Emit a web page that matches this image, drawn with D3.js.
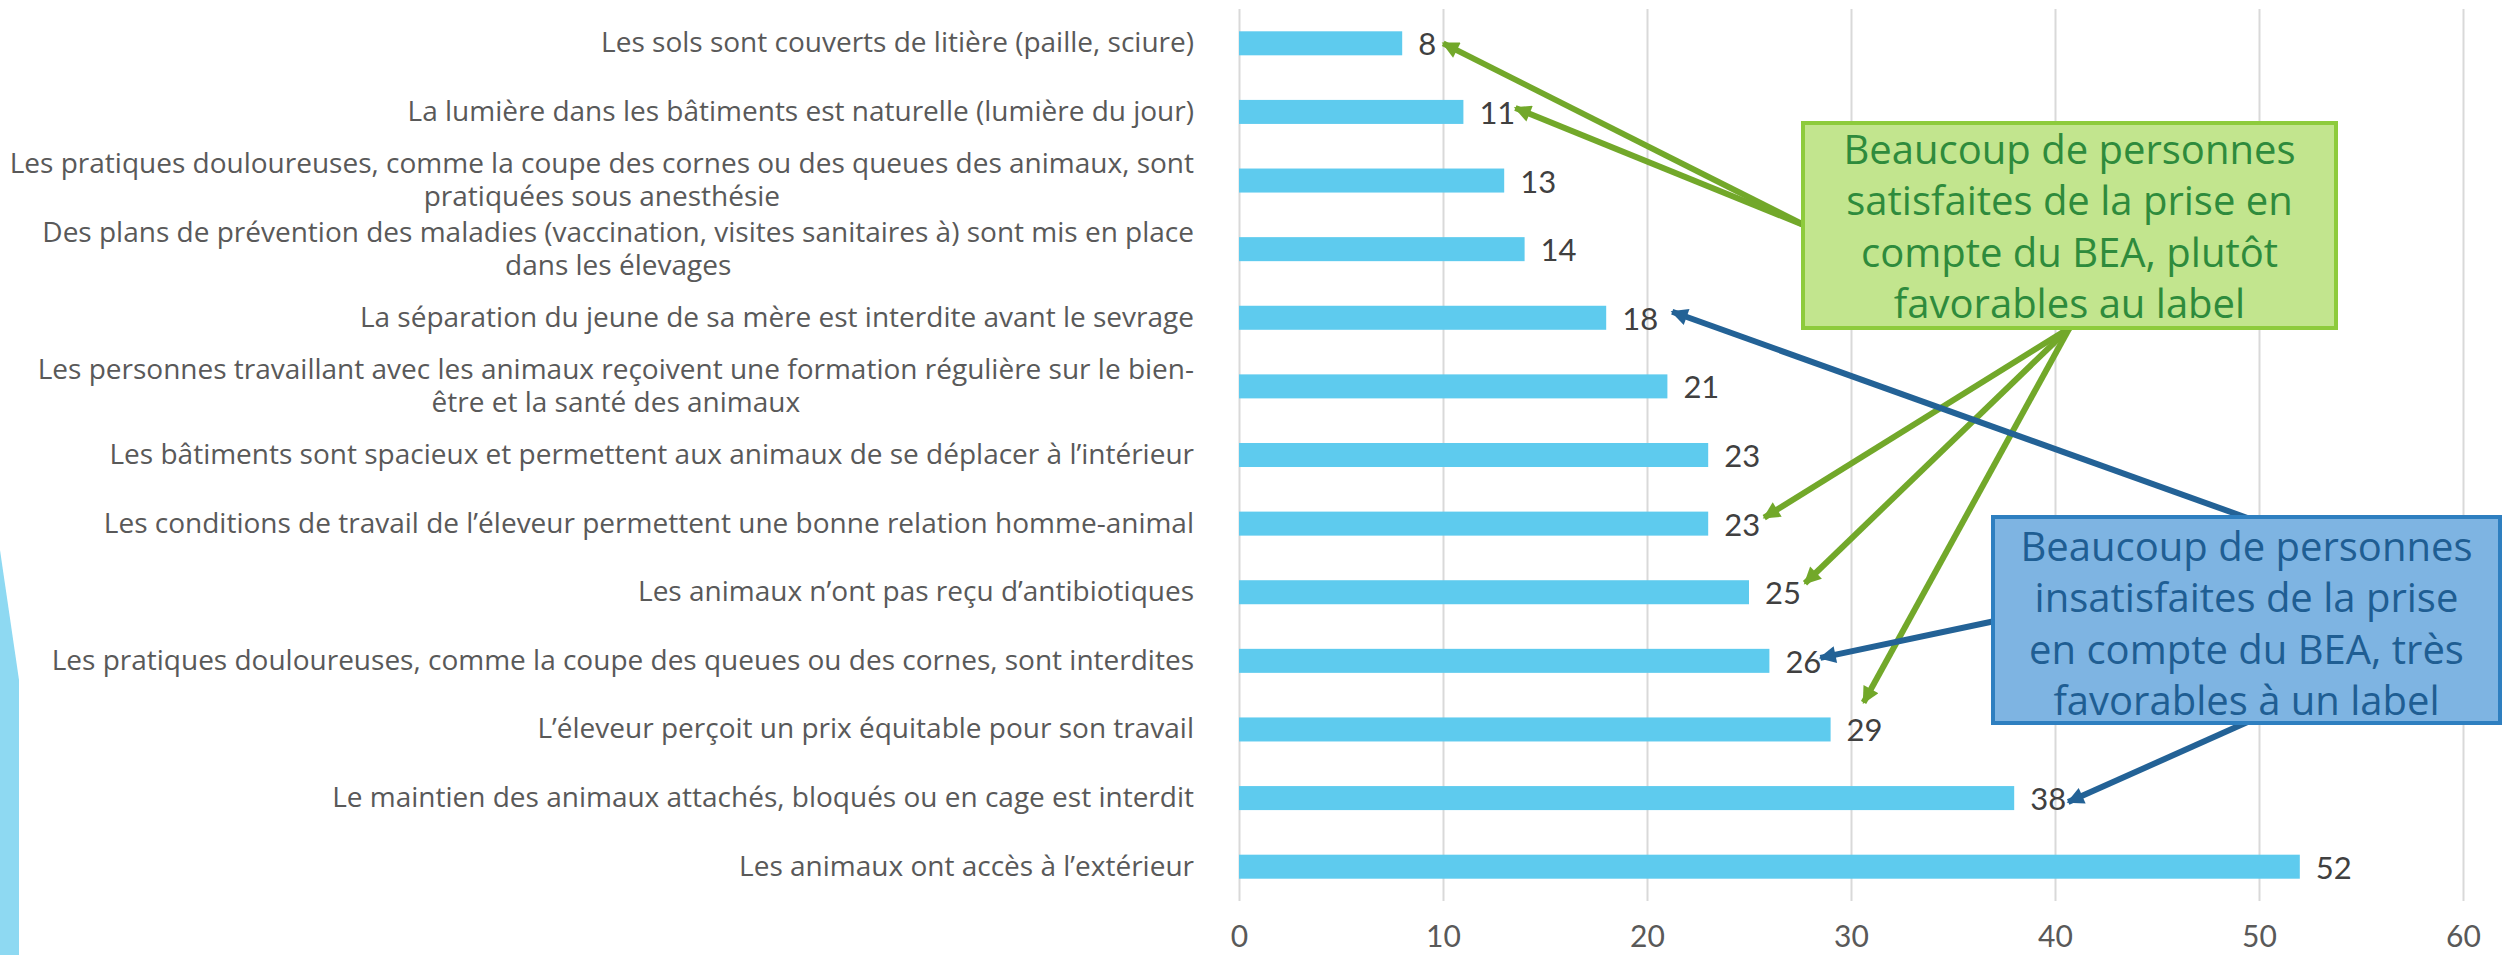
<!DOCTYPE html>
<html>
<head>
<meta charset="utf-8">
<script src="https://cdn.jsdelivr.net/npm/d3@7"></script>
<style>
    body { margin: 0; background: #ffffff; }
    svg { display: block; font-family: "Open Sans", sans-serif; }
</style>
</head>
<body>
<div id="chart"></div>
<script>
// Data, top to bottom ("|" marks a line break in the label)
var categories = [
    "Les sols sont couverts de litière (paille, sciure)",
    "La lumière dans les bâtiments est naturelle (lumière du jour)",
    "Les pratiques douloureuses, comme la coupe des cornes ou des queues des animaux, sont|pratiquées sous anesthésie",
    "Des plans de prévention des maladies (vaccination, visites sanitaires à) sont mis en place|dans les élevages",
    "La séparation du jeune de sa mère est interdite avant le sevrage",
    "Les personnes travaillant avec les animaux reçoivent une formation régulière sur le bien-|être et la santé des animaux",
    "Les bâtiments sont spacieux et permettent aux animaux de se déplacer à l’intérieur",
    "Les conditions de travail de l’éleveur permettent une bonne relation homme-animal",
    "Les animaux n’ont pas reçu d’antibiotiques",
    "Les pratiques douloureuses, comme la coupe des queues ou des cornes, sont interdites",
    "L’éleveur perçoit un prix équitable pour son travail",
    "Le maintien des animaux attachés, bloqués ou en cage est interdit",
    "Les animaux ont accès à l’extérieur"
];
var values = [8, 11, 13, 14, 18, 21, 23, 23, 25, 26, 29, 38, 52];
var xTicks = [0, 10, 20, 30, 40, 50, 60];

// Callout texts and the bars they point at
var greenLines = ["Beaucoup de personnes", "satisfaites de la prise en", "compte du BEA, plutôt", "favorables au label"];
var blueLines = ["Beaucoup de personnes", "insatisfaites de la prise", "en compte du BEA, très", "favorables à un label"];
var greenTargets = [0, 1, 7, 8, 10];
var blueTargets = [4, 9, 11];

// Set up SVG params
var svgWdt = 2503;
var svgHgt = 955;
var margins = { top: 9, right: 40, bottom: 54, left: 1239 };
var chtWdt = svgWdt - margins.left - margins.right;
var chtHgt = svgHgt - margins.top - margins.bottom;

var svg = d3.select("#chart").append("svg")
    .attr("width", svgWdt)
    .attr("height", svgHgt);

// Light blue decoration on the left edge
svg.append("path")
    .attr("d", "M0,550 L19,680 L19,955 L0,955 Z")
    .attr("fill", "#8ED9F2");

var chtGrp = svg.append("g")
    .attr("transform", `translate(${margins.left}, ${margins.top})`);

var xScale = d3.scaleLinear().domain([0, 60]).range([0, chtWdt]);
var yScale = d3.scaleBand().domain(d3.range(categories.length))
    .range([0, chtHgt]).paddingInner(0.65).paddingOuter(0.325);
var yMid = i => yScale(i) + yScale.bandwidth() / 2;

// Gridlines and tick labels
var botRule = d3.axisBottom(xScale).tickValues(xTicks)
    .tickSizeInner(-chtHgt).tickSizeOuter(0);
var xAxis = chtGrp.append("g")
    .attr("transform", `translate(0, ${chtHgt})`)
    .call(botRule);
xAxis.select(".domain").remove();
xAxis.selectAll("line").attr("stroke", "#D9D9D9").attr("stroke-width", 2);
xAxis.selectAll("text")
    .attr("y", 46).attr("dy", 0)
    .attr("fill", "#595959")
    .style("font-size", "30px")
    .style("font-family", "Lato, sans-serif");

// Bars
chtGrp.selectAll(".bar").data(values)
    .enter()
    .append("rect")
        .attr("class", "bar")
        .attr("x", 0)
        .attr("y", (d, i) => yScale(i))
        .attr("width", d => xScale(d))
        .attr("height", yScale.bandwidth())
        .attr("fill", "#5ECBEE");

// Value labels
chtGrp.selectAll(".val").data(values)
    .enter()
    .append("text")
        .attr("class", "val")
        .attr("x", d => xScale(d) + 16)
        .attr("y", (d, i) => yMid(i) + 12)
        .attr("fill", "#404040")
        .style("font-size", "31px")
        .style("font-family", "Lato, sans-serif")
        .text(d => d);

// Category labels, lines centred inside a right-aligned block
var lblRight = -45;
var lineHgt = 33;
categories.forEach((c, i) => {
    var lines = c.split("|");
    var g = chtGrp.append("g");
    var txts = lines.map((ln, j) => g.append("text")
        .attr("y", yMid(i) + 9 + (j - (lines.length - 1) / 2) * lineHgt)
        .attr("fill", "#595959")
        .style("font-size", "28px")
        .text(ln));
    var maxW = d3.max(txts, t => t.node().getComputedTextLength());
    txts.forEach(t => t.attr("text-anchor", "middle").attr("x", lblRight - maxW / 2));
});

// Arrow markers
var defs = svg.append("defs");
function marker(id, col) {
    defs.append("marker")
        .attr("id", id)
        .attr("viewBox", "0 0 10 10")
        .attr("refX", 9).attr("refY", 5)
        .attr("markerUnits", "userSpaceOnUse")
        .attr("markerWidth", 20).attr("markerHeight", 17)
        .attr("orient", "auto")
        .append("path")
            .attr("d", "M0,0 L10,5 L0,10 Z")
            .attr("fill", col);
}
marker("headGreen", "#72A82A");
marker("headBlue", "#236296");

// Arrow tips sit next to each value label (offsets from bar end / bar centre)
var tipOffset = {
    0: [41, 0], 1: [52, -4], 4: [66, -6], 7: [56, -6], 8: [56, -9],
    9: [51, -3], 10: [33, -27], 11: [54, 4]
};
function tip(i) {
    return [margins.left + xScale(values[i]) + tipOffset[i][0], margins.top + yMid(i) + tipOffset[i][1]];
}

var greenBox = { x: 1803, y: 123, w: 533, h: 205 };
var blueBox = { x: 1993, y: 517, w: 507, h: 206 };

// Green arrows: first two from the left edge, others from the bottom
var arrGrp = svg.append("g");
greenTargets.forEach(i => {
    var s = (i < 2) ? [greenBox.x + 3, 226] : [greenBox.x + greenBox.w / 2, greenBox.y + greenBox.h];
    var t = tip(i);
    arrGrp.append("line")
        .attr("x1", s[0]).attr("y1", s[1]).attr("x2", t[0]).attr("y2", t[1])
        .attr("stroke", "#72A82A").attr("stroke-width", 6)
        .attr("marker-end", "url(#headGreen)");
});
// Blue arrows: from top, left and bottom of the blue box
var blueStarts = {
    4: [blueBox.x + blueBox.w / 2 + 1, blueBox.y + 1],
    9: [blueBox.x + 2, 621],
    11: [blueBox.x + blueBox.w / 2 + 1, blueBox.y + blueBox.h - 1]
};
blueTargets.forEach(i => {
    var s = blueStarts[i];
    var t = tip(i);
    arrGrp.append("line")
        .attr("x1", s[0]).attr("y1", s[1]).attr("x2", t[0]).attr("y2", t[1])
        .attr("stroke", "#236296").attr("stroke-width", 6)
        .attr("marker-end", "url(#headBlue)");
});

// Callout boxes
function callout(box, lines, fill, stroke, col, firstBase) {
    var g = svg.append("g");
    g.append("rect")
        .attr("x", box.x).attr("y", box.y)
        .attr("width", box.w).attr("height", box.h)
        .attr("fill", fill).attr("stroke", stroke).attr("stroke-width", 4);
    g.selectAll("text").data(lines)
        .enter()
        .append("text")
            .attr("x", box.x + box.w / 2)
            .attr("y", (d, i) => firstBase + i * 51.3)
            .attr("text-anchor", "middle")
            .attr("fill", col)
            .style("font-size", "40px")
            .text(d => d);
}
callout(greenBox, greenLines, "#C2E58E", "#8DCB3C", "#2E8B3C", 164);
callout(blueBox, blueLines, "#7EB4E2", "#2E7FC0", "#1F5E93", 561);
</script>
</body>
</html>
